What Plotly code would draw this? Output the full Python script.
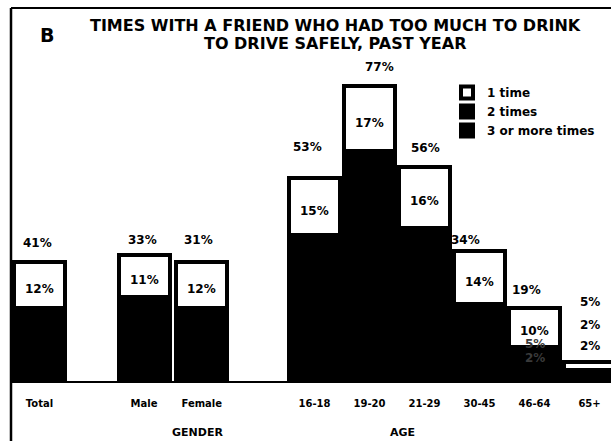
import plotly.graph_objects as go

# ---- data ----
categories = ["Total", "Male", "Female", "16-18", "19-20", "21-29", "30-45", "46-64", "65+"]
one_time = [12, 11, 12, 15, 17, 16, 14, 10, 2]
two_times = [9, 10, 9, 17, 25, 18, 9, 5, 2]
three_plus = [10, 12, 10, 21, 35, 22, 11, 4, 1]
total_labels = ["41%", "33%", "31%", "53%", "77%", "56%", "34%", "19%", "5%"]
one_time_labels = ["12%", "11%", "12%", "15%", "17%", "16%", "14%", "10%", "2%"]
two_times_labels = ["", "", "", "", "", "", "", "5%", "2%"]
three_plus_labels = ["", "", "", "", "", "", "", "2%", ""]
series_names = ["1 time", "2 times", "3 or more times"]
group_names = ["GENDER", "AGE"]
panel_letter = "B"
title_lines = ["TIMES WITH A FRIEND WHO HAD TOO MUCH TO DRINK", "TO DRIVE SAFELY, PAST YEAR"]

# ---- layout helpers (positions / styles) ----
slot = [0, 1.9, 2.95, 5, 6, 7, 8, 9, 10]
BAR_W = 0.927
top_yshift = [19, 15, 22, 31, 19, 19, 11, 18, 60]
top_xshift = [-2, -2, -3, -7, 10, 1, -14, -8, 0]
inner_yshift = [-4, -4, -4, -4, -4, -4, -4, -4, 41]
two_yshift = [0, 0, 0, 0, 0, 0, 0, 12, 27]
three_yshift = [0, 0, 0, 0, 0, 0, 0, 15, 0]
two_colors = ["#3a3a3a"] * 8 + ["black"]

FONT = "DejaVu Sans"
W, H = 611, 441
ML, MR, MT, MB = 12, 0, 10, 60
plot_h = H - MT - MB
base_px = H - MB


def px_to_paper_x(px):
    return (px - ML) / (W - ML - MR)


def px_to_paper_y(py):
    return (base_px - py) / plot_h


fig = go.Figure()
line = dict(color="black", width=4)
fig.add_trace(go.Bar(x=slot, y=three_plus, name=series_names[2], width=BAR_W,
                     marker=dict(color="black", line=line), hoverinfo="skip"))
fig.add_trace(go.Bar(x=slot, y=two_times, name=series_names[1], width=BAR_W,
                     marker=dict(color="black", line=line), hoverinfo="skip"))
fig.add_trace(go.Bar(x=slot, y=one_time, name=series_names[0], width=BAR_W,
                     marker=dict(color="white", line=line), hoverinfo="skip"))

annotations = []
lab_font = dict(family=FONT, size=12, color="black", weight="bold")
for i in range(len(categories)):
    total = one_time[i] + two_times[i] + three_plus[i]
    annotations.append(dict(x=slot[i], y=total, text=total_labels[i], showarrow=False,
                            yanchor="middle", yshift=top_yshift[i], xshift=top_xshift[i],
                            font=lab_font))
    annotations.append(dict(x=slot[i], y=three_plus[i] + two_times[i] + one_time[i] / 2,
                            text=one_time_labels[i], showarrow=False, yanchor="middle",
                            yshift=inner_yshift[i], font=lab_font))
    if two_times_labels[i]:
        annotations.append(dict(x=slot[i], y=three_plus[i] + two_times[i] / 2,
                                text=two_times_labels[i], showarrow=False, yanchor="middle",
                                yshift=two_yshift[i],
                                font=dict(family=FONT, size=12, color=two_colors[i], weight="bold")))
    if three_plus_labels[i]:
        annotations.append(dict(x=slot[i], y=three_plus[i] / 2,
                                text=three_plus_labels[i], showarrow=False, yanchor="middle",
                                yshift=three_yshift[i],
                                font=dict(family=FONT, size=12, color="#3a3a3a", weight="bold")))

# title, panel letter, group labels
annotations.append(dict(xref="paper", yref="paper", x=px_to_paper_x(335), y=px_to_paper_y(25),
                        text=title_lines[0], showarrow=False, xanchor="center", yanchor="middle",
                        font=dict(family=FONT, size=16, color="black", weight="bold")))
annotations.append(dict(xref="paper", yref="paper", x=px_to_paper_x(335), y=px_to_paper_y(43),
                        text=title_lines[1], showarrow=False, xanchor="center", yanchor="middle",
                        font=dict(family=FONT, size=16, color="black", weight="bold")))
annotations.append(dict(xref="paper", yref="paper", x=px_to_paper_x(47), y=px_to_paper_y(35),
                        text=panel_letter, showarrow=False, xanchor="center", yanchor="middle",
                        font=dict(family=FONT, size=19, color="black", weight="bold")))
annotations.append(dict(xref="paper", yref="paper", x=px_to_paper_x(197), y=px_to_paper_y(441),
                        text=group_names[0], showarrow=False, xanchor="center", yanchor="bottom",
                        font=dict(family=FONT, size=11, color="black", weight="bold")))
annotations.append(dict(xref="paper", yref="paper", x=px_to_paper_x(403), y=px_to_paper_y(441),
                        text=group_names[1], showarrow=False, xanchor="center", yanchor="bottom",
                        font=dict(family=FONT, size=11, color="black", weight="bold")))

shapes = [
    dict(type="line", xref="paper", yref="paper", x0=px_to_paper_x(11), x1=1.0,
         y0=px_to_paper_y(8), y1=px_to_paper_y(8), line=dict(color="black", width=2)),
    dict(type="line", xref="paper", yref="paper", x0=px_to_paper_x(11), x1=px_to_paper_x(11),
         y0=px_to_paper_y(8), y1=px_to_paper_y(441), line=dict(color="black", width=2.5)),
]

fig.update_layout(
    width=W, height=H,
    margin=dict(l=ML, r=MR, t=MT, b=MB),
    barmode="stack",
    plot_bgcolor="white", paper_bgcolor="white",
    showlegend=True,
    legend=dict(x=px_to_paper_x(447), y=px_to_paper_y(78), xanchor="left", yanchor="top",
                traceorder="reversed", bgcolor="rgba(0,0,0,0)",
                font=dict(family=FONT, size=12, color="black", weight="bold")),
    annotations=annotations,
    shapes=shapes,
    xaxis=dict(range=[-0.5, 10.39], tickvals=slot,
               ticktext=[f"<b>{c}</b>" for c in categories],
               tickfont=dict(family=FONT, size=10, color="black"),
               showline=True, linecolor="black", linewidth=2, showgrid=False,
               zeroline=False, ticks="", ticklabelstandoff=12, fixedrange=True),
    yaxis=dict(range=[0, plot_h / 3.83], visible=False, showgrid=False, zeroline=False,
               fixedrange=True),
    bargap=0,
)

fig.write_html("out.html", config={"displayModeBar": False},
               post_script="document.body.style.margin='0';document.body.style.overflow='hidden';")
